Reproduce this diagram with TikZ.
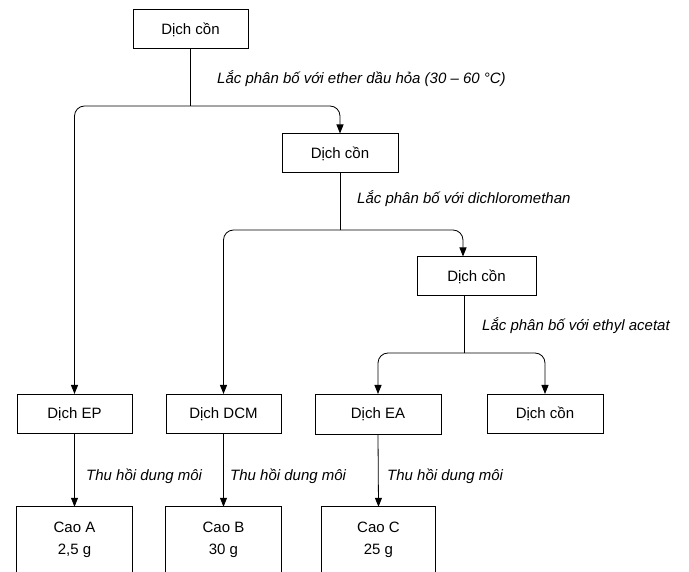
\documentclass[tikz,border=0pt]{standalone}
\usepackage{fontspec}
\setmainfont{Liberation Sans}
\usetikzlibrary{arrows.meta}
\begin{document}
\begin{tikzpicture}[x=1pt,y=-1pt,
  box/.style={draw, line width=1pt, minimum height=39pt, inner sep=0pt, font=\fontsize{15pt}{18pt}\selectfont},
  cao/.style={inner sep=0pt, minimum height=65pt, align=center, font=\fontsize{15pt}{22pt}\selectfont},
  lbl/.style={anchor=west, inner sep=0pt, font=\fontsize{15pt}{18pt}\selectfont\itshape},
  conn/.style={line width=0.8pt},
  arr/.style={conn, -{Triangle[length=9pt,width=7pt]}, rounded corners=10pt}]
\useasboundingbox (0,0) rectangle (689,572);
% boxes
\node[box, minimum width=115pt] (top) at (190.5,29.5) {Dịch cồn};
\node[box, minimum width=116pt] (c2) at (340,153.5) {Dịch cồn};
\node[box, minimum width=119pt] (c3) at (476.5,276.5) {Dịch cồn};
\node[box, minimum width=115pt] (ep) at (74.5,414) {Dịch EP};
\node[box, minimum width=115pt] (dcm) at (223.5,414) {Dịch DCM};
\node[box, minimum width=126pt, minimum height=40pt] (ea) at (378,414.5) {Dịch EA};
\node[box, minimum width=116pt] (c4) at (545,414) {Dịch cồn};
\node[cao, minimum width=115pt] (ca) at (74.5,539.5) {Cao A\\2,5 g};
\node[cao, minimum width=115pt] (cb) at (223.5,539.5) {Cao B\\30 g};
\node[cao, minimum width=113pt] (cc) at (378.5,539.5) {Cao C\\25 g};
\foreach \n in {ca,cb,cc}
  \draw[line width=1pt] (\n.south west) -- (\n.north west) -- (\n.north east) -- (\n.south east);
% branch points
\coordinate (s1) at (top.south |- 0,106);
\coordinate (s2) at (c2.south |- 0,230);
\path (c3.north) ++(-13.5,0) coordinate (c3in);
\path (c3.south) ++(-12.5,0) coordinate (c3out);
\coordinate (s3) at (c3out |- 0,353);
% connectors
\draw[conn] (top.south) -- (s1);
\draw[arr] (s1) -| (ep.north);
\draw[arr] (s1) -| (c2.north);
\draw[conn] (c2.south) -- (s2);
\draw[arr] (s2) -| (dcm.north);
\draw[arr] (s2) -| (c3in);
\draw[conn] (c3out) -- (s3);
\draw[arr] (s3) -| (ea.north);
\draw[arr] (s3) -| (c4.north);
\draw[arr] (ep.south) -- (ca.north);
\draw[arr] (dcm.south) -- (cb.north);
\draw[arr] (ea.south) -- (cc.north);
% labels
\node[lbl] (l1) at (217,79) {Lắc phân bố với ether dầu hỏa (30 – 60 °C)};
\node[lbl] (l2) at (357,199) {Lắc phân bố với dichloromethan};
\node[lbl] (l3) at (482,326) {Lắc phân bố với ethyl acetat};
\node[lbl] (t1) at (86,476) {Thu hồi dung môi};
\node[lbl] (t2) at (230,476) {Thu hồi dung môi};
\node[lbl] (t3) at (387,476) {Thu hồi dung môi};
\end{tikzpicture}
\end{document}
